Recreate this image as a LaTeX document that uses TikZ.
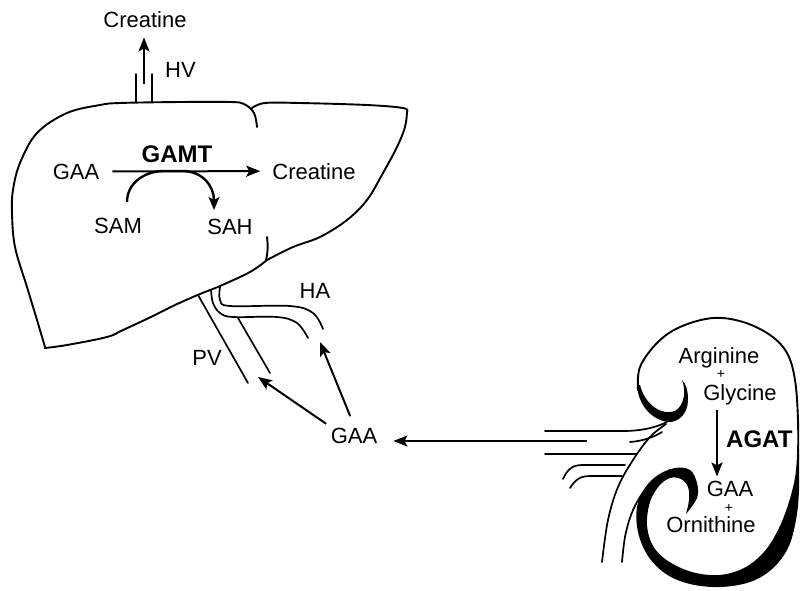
\documentclass[tikz,border=0pt]{standalone}
\usepackage{fontspec}
\setmainfont{Liberation Sans}
\usetikzlibrary{arrows.meta}
\begin{document}
\begin{tikzpicture}[x=1pt,y=-1pt,
  organ/.style={line width=1.9pt, line join=round, line cap=round},
  vessel/.style={line width=1.7pt, line cap=round},
  flow/.style={line width=2pt, -{Stealth[length=14pt,width=11pt,inset=3pt]}},
  lbl/.style={inner sep=2pt, font=\fontsize{22}{26}\selectfont},
  enz/.style={inner sep=2pt, font=\fontsize{24}{28}\selectfont\bfseries},
  plus/.style={inner sep=0pt, font=\fontsize{14}{16}\selectfont},
]
\useasboundingbox (0,0) rectangle (801,590);

% ---------- liver ----------
\draw[organ]
  plot[smooth,tension=0.6] coordinates {(257,127) (254,113) (244,104) (230,102) (180,102) (120,103) (100,105) (67,113) (37,133) (20,163) (13,190) (12,213) (15,247) (27,287) (37,320) (45,347)}
  -- plot[smooth,tension=0.6] coordinates {(45,348) (67,345) (107,337) (123,330) (153,316) (175,305) (200,294) (220,286) (250,272) (267,260)}
  -- plot[smooth,tension=0.6] coordinates {(267,260) (293,247) (320,237) (347,220) (367,200) (383,173) (397,147) (405,127) (407,112)}
  -- plot[smooth,tension=0.6] coordinates {(407,112) (403,108) (367,105) (300,103) (265,103) (252,108)};
\draw[organ] (267,237) .. controls (268,245) and (268,252) .. (266,260);

% hepatic vein
\draw[vessel] (136,74) -- (136,102);
\draw[vessel] (152,74) -- (152,102);

% portal vein and hepatic artery
\draw[vessel] (198,295) -- (248,383);
\draw[vessel] (238,318) -- (270,373);
\draw[vessel] plot[smooth,tension=0.6] coordinates {(211,290) (213,303) (220,313) (233,317) (277,317) (297,323) (308,338)};
\draw[vessel] plot[smooth,tension=0.6] coordinates {(220,287) (220,300) (230,306) (290,306) (313,313) (323,329)};

% ---------- kidney ----------
\draw[organ] plot[smooth,tension=0.6] coordinates {(638,390) (640,367) (657,343) (680,327) (713,318) (743,322) (770,335) (787,353) (795,380) (798,420) (798,462)};
% upper lip of the hilum
\fill (637,385) .. controls (638,402) and (648,418) .. (667,422)
  .. controls (678,423) and (688,414) .. (688,400)
  .. controls (688,390) and (686,384) .. (682,380)
  .. controls (686,390) and (685,405) .. (675,411)
  .. controls (662,416) and (645,405) .. (640,385) -- cycle;
% thick lower rim and lower lip
\fill plot[smooth,tension=0.6] coordinates {(799,455) (799,490) (796,520) (788,548) (772,569) (750,582) (720,587) (690,584) (666,574) (648,556) (638,532) (637,507) (645,488) (658,475) (675,468) (690,470) (697,483) (697,498) (686,514)}
  -- plot[smooth,tension=0.6] coordinates {(686,514) (689,500) (688,487) (681,479) (670,478) (659,486) (650,502) (647,525) (653,546) (668,561) (692,572) (719,575) (744,568) (764,552) (778,530) (788,505) (795,478) (797,455)} -- cycle;

% renal vessels and ureter
\draw[vessel] (545,431) -- (623,431) .. controls (640,431) and (655,428) .. (667,422);
\draw[vessel] (630,442) .. controls (642,441) and (652,438) .. (662,432);
\draw[vessel] (545,454) -- (636,454);
\draw[vessel] (563,479) .. controls (567,470) and (572,465) .. (582,465) -- (625,465);
\draw[vessel] (570,488) .. controls (575,480) and (580,476) .. (590,476) -- (622,476);
\draw[vessel] plot[smooth,tension=0.6] coordinates {(666,424) (650,437) (633,460) (618,487) (608,520) (602,562)};
\draw[vessel] plot[smooth,tension=0.6] coordinates {(670,470) (652,482) (640,497) (631,515) (625,537) (622,562)};

% ---------- labels ----------
\node[lbl, anchor=base] (crtop) at (145,27) {Creatine};
\node[lbl, anchor=base west] (hv) at (163,77) {HV};
\node[lbl, anchor=base] (gaaL) at (76,179) {GAA};
\node[lbl, anchor=base] (crL) at (314,179) {Creatine};
\node[enz, anchor=base] (gamt) at (177,162) {GAMT};
\node[lbl, anchor=base] (sam) at (118,233) {SAM};
\node[lbl, anchor=base] (sah) at (230,234) {SAH};
\node[lbl, anchor=base] (ha) at (315,298) {HA};
\node[lbl, anchor=base] (pv) at (207,365) {PV};
\node[lbl, anchor=base] (gaaB) at (354,443) {GAA};

\node[lbl, anchor=base] (arg) at (719,363) {Arginine};
\node[plus] (p1) at (721,374.5) {+};
\node[lbl, anchor=base] (gly) at (740,400) {Glycine};
\node[enz, anchor=base west] (agat) at (724,447) {AGAT};
\node[lbl, anchor=base] (gaaK) at (730,496) {GAA};
\node[plus] (p2) at (729,508) {+};
\node[lbl, anchor=base] (orn) at (711,532) {Ornithine};

% ---------- connectors ----------
\coordinate (hvfoot) at (144,84);
\draw[flow, shorten >=8pt] (hvfoot) -- (hvfoot |- crtop.south);

\draw[flow, shorten <=11pt, shorten >=10pt] (gaaL.east) -- (crL.west);

\coordinate (samout) at (127,202);
\coordinate (sahin) at (214,210);
\draw[line width=2.4pt, -{Stealth[length=13pt,width=11pt,inset=3pt]}]
  (samout) .. controls (127,184) and (143,172) .. (162,171) -- (184,171)
  .. controls (203,172) and (214,186) .. (sahin);

\coordinate (pvin) at (258,377);
\coordinate (hain) at (320,342);
\draw[flow, shorten <=3pt] (gaaB.north west) -- (pvin);
\draw[flow, shorten <=10pt] (gaaB.north) -- (hain);

\coordinate (renal) at (587,441);
\draw[flow, shorten >=14pt] (renal) -- (renal -| gaaB.east);

\coordinate (agattop) at (717,410);
\draw[flow, shorten >=2pt] (agattop) -- (agattop |- gaaK.north);
\end{tikzpicture}
\end{document}
